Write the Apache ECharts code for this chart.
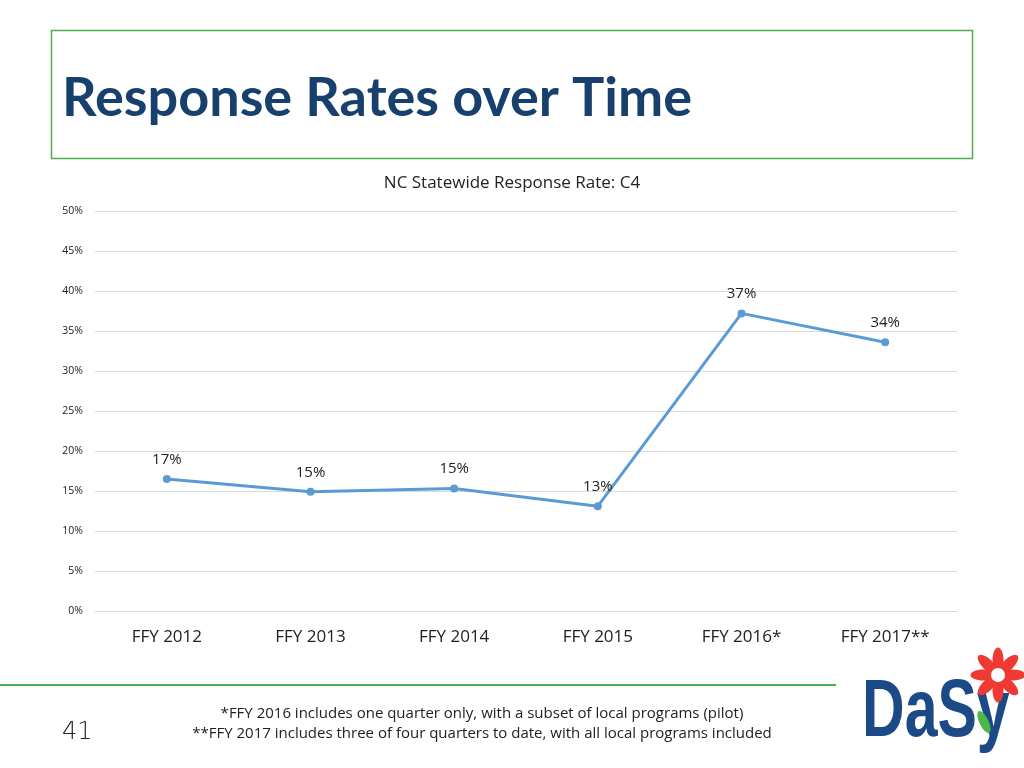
<!DOCTYPE html>
<html><head><meta charset="utf-8">
<script src="https://cdn.jsdelivr.net/npm/echarts@6/dist/echarts.min.js"></script>
<style>html,body{margin:0;padding:0;background:#fff}#c{width:1024px;height:768px}</style>
</head><body><div id="c"></div>
<script>
const categories = ['FFY 2012','FFY 2013','FFY 2014','FFY 2015','FFY 2016*','FFY 2017**'];
const responseRates = [16.5, 14.9, 15.3, 13.1, 37.2, 33.6];
const yTicks = [0,5,10,15,20,25,30,35,40,45,50];
const slideTitle = 'Response Rates over Time';
const chartTitle = 'NC Statewide Response Rate: C4';
const notes = ['*FFY 2016 includes one quarter only, with a subset of local programs (pilot)',
               '**FFY 2017 includes three of four quarters to date, with all local programs included'];
const pageNumber = '41';

const chart = echarts.init(document.getElementById('c'), null, {renderer:'canvas'});
const petals = [];
for (let i = 0; i < 8; i++) {
  petals.push({type:'ellipse', shape:{cx:0, cy:-15, rx:5.5, ry:12.5}, rotation: i*Math.PI/4,
    style:{fill:'#EE3A32'}});
}
chart.setOption({
  animation:false,
  title:{text:chartTitle, left:'center', top:170, textStyle:{fontFamily:'Open Sans', fontSize:17, fontWeight:'normal', color:'#222'}},
  grid:{left:95, right:67, top:211, bottom:157, containLabel:false},
  xAxis:{type:'category', data:categories, boundaryGap:true,
    axisLine:{lineStyle:{color:'#d9d9d9'}}, axisTick:{show:false},
    axisLabel:{fontFamily:'Open Sans', fontSize:17, color:'#222', margin:18}},
  yAxis:{type:'value', min:yTicks[0], max:yTicks[yTicks.length-1], interval:5,
    axisLine:{show:false}, axisTick:{show:false},
    splitLine:{lineStyle:{color:'#d9d9d9'}},
    axisLabel:{formatter:v=>v+'%', fontFamily:'Open Sans', fontSize:10.5, color:'#222', margin:12}},
  series:[{type:'line', data:responseRates, symbol:'circle', symbolSize:8,
    lineStyle:{color:'#5B9BD5', width:3}, itemStyle:{color:'#5B9BD5'},
    label:{show:true, position:'top', distance:8, formatter:p=>Math.round(p.value)+'%',
      fontFamily:'Open Sans', fontSize:15, color:'#222'}}],
  graphic:[
    {type:'rect', shape:{x:51.5, y:30.5, width:921, height:128}, style:{fill:'none', stroke:'#4DAE4D', lineWidth:1.5}},
    {type:'text', left:62, top:72, style:{text:slideTitle, fontFamily:'Lato', fontWeight:'bold', fontSize:54, fill:'#17406D'}},
    {type:'rect', shape:{x:0, y:684, width:836, height:2}, style:{fill:'#4DAE4D'}},
    {type:'text', left:62, top:721, style:{text:pageNumber, fontFamily:'DejaVu Sans', fontWeight:'lighter', fontSize:24, fill:'#222'}},
    {type:'text', x:482, y:714, style:{text:notes[0], fontFamily:'Open Sans', fontSize:15, fill:'#222', align:'center', verticalAlign:'middle'}},
    {type:'text', x:482, y:734, style:{text:notes[1], fontFamily:'Open Sans', fontSize:15, fill:'#222', align:'center', verticalAlign:'middle'}},
    {type:'text', x:862, y:672, scaleX:0.72, style:{text:'DaSy', fontFamily:'Liberation Sans', fontWeight:'bold', fontSize:82, fill:'#1B4A86', verticalAlign:'top'}},
    {type:'group', x:998, y:675, children: petals.concat([{type:'circle', shape:{cx:0, cy:0, r:7}, style:{fill:'#fff'}}])},
    {type:'ellipse', shape:{cx:0, cy:0, rx:4.5, ry:12}, x:984, y:722, rotation:0.45, style:{fill:'#4CB848'}}
  ]
});
</script></body></html>
